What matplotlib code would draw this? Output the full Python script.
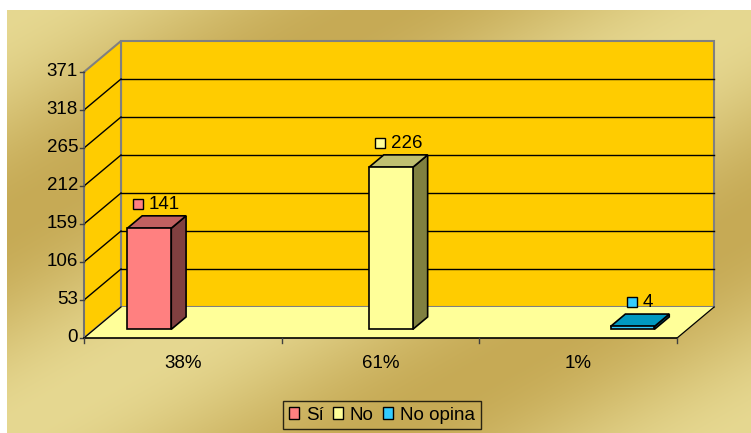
import numpy as np
import matplotlib.pyplot as plt
from matplotlib.patches import Polygon, Patch

# datos del grafico
categorias = ['38%', '61%', '1%']
series = ['Sí', 'No', 'No opina']
valores = [141, 226, 4]
marcas_y = [0, 53, 106, 159, 212, 265, 318, 371]

col_frente = ['#ff8080', '#ffff99', '#33ccff']
col_arriba = ['#c06060', '#c0c070', '#0099c0']
col_lado = ['#804040', '#808040', '#006f90']

plt.rcParams['font.family'] = ['Liberation Sans', 'DejaVu Sans']
fs = 13.5

fig = plt.figure(figsize=(7.51, 4.33), dpi=100)
ax = fig.add_axes([0, 0, 1, 1])

# escala: pixeles por categoria y por unidad de valor
PXU = 197.7
PXV = 266 / 371
X0, Y0 = 84, 338
def px2u(x):
    return (x - X0) / PXU
def py2v(y):
    return (Y0 - y) / PXV

# desplazamiento de profundidad (efecto 3D)
DU = 37 / PXU
DV = 31 / PXV
def p(u, v, z):
    return (u + z * DU, v + z * DV)

# fondo dorado con degradado
H, W = 422, 744
yy, xx = np.mgrid[0:H, 0:W]
t = (xx / W + yy / H) / 2
k = np.sin(2 * np.pi * t) ** 2
claro = np.array([230, 216, 145]) / 255
oscuro = np.array([198, 170, 85]) / 255
img = claro * (1 - k[..., None]) + oscuro * k[..., None]
ax.imshow(img, extent=(px2u(7), px2u(751), py2v(433), py2v(11)), aspect='auto', zorder=0)

ax.set_xlim(px2u(0), px2u(751))
ax.set_ylim(py2v(433), py2v(0))
ax.axis('off')

n = len(categorias)
vmax = marcas_y[-1]

# paredes y piso
ax.add_patch(Polygon([p(0, 0, 1), p(n, 0, 1), p(n, vmax, 1), p(0, vmax, 1)],
                     fc='#ffcc00', ec='#808080', lw=1.5, zorder=1))
ax.add_patch(Polygon([p(0, 0, 0), p(0, 0, 1), p(0, vmax, 1), p(0, vmax, 0)],
                     fc='#ffcc00', ec='#808080', lw=1.5, zorder=1))
ax.add_patch(Polygon([p(0, 0, 0), p(n, 0, 0), p(n, 0, 1), p(0, 0, 1)],
                     fc='#ffff99', ec='none', zorder=1))
ax.plot(*zip(p(0, 0, 0), p(0, 0, 1)), color='black', lw=0.9, zorder=2)
ax.plot(*zip(p(n, 0, 0), p(n, 0, 1)), color='black', lw=0.9, zorder=2)

# lineas de division
for v in marcas_y[1:-1]:
    ax.plot(*zip(p(0, v, 1), p(n, v, 1)), color='black', lw=1, zorder=2)
    ax.plot(*zip(p(0, v, 0), p(0, v, 1)), color='black', lw=1, zorder=2)

# eje y
ax.plot(*zip(p(0, 0, 0), p(0, vmax, 0)), color='#707070', lw=1.2, zorder=3)
for v in marcas_y:
    ax.plot([0, px2u(X0 - 4)], [v, v], color='#404040', lw=1, zorder=3)
    ax.text(px2u(X0 - 6), v, str(v), ha='right', va='center', fontsize=fs, zorder=3)

# eje x
ax.plot([0, n], [0, 0], color='black', lw=1.2, zorder=3)
for i in range(n + 1):
    ax.plot([i, i], [0, -5 / PXV], color='#404040', lw=1, zorder=3)
for i, c in enumerate(categorias):
    ax.text(i + 0.5, py2v(363), c, ha='center', va='center', fontsize=fs, zorder=3)

# barras
ancho = 0.222
z0, z1 = 0.28, 0.68
for i, val in enumerate(valores):
    c = i + 0.5 + (i - 1) * ancho
    u0, u1 = c - ancho / 2, c + ancho / 2
    frente = [p(u0, 0, z0), p(u1, 0, z0), p(u1, val, z0), p(u0, val, z0)]
    arriba = [p(u0, val, z0), p(u1, val, z0), p(u1, val, z1), p(u0, val, z1)]
    lado = [p(u1, 0, z0), p(u1, 0, z1), p(u1, val, z1), p(u1, val, z0)]
    ax.add_patch(Polygon(lado, fc=col_lado[i], ec='black', lw=1.2, zorder=4))
    ax.add_patch(Polygon(arriba, fc=col_arriba[i], ec='black', lw=1.2, zorder=4))
    ax.add_patch(Polygon(frente, fc=col_frente[i], ec='black', lw=1.2, zorder=4))

    # etiqueta con cuadrito de color
    lu, lv = p(c, val, 0.48)
    lv += 18 / PXV
    tw = len(str(val)) * 0.556 * fs * 100 / 72
    total = 10 + 6 + tw
    cx = lu + (-total / 2 + 5) / PXU
    ax.plot(cx, lv, marker='s', ms=7.2, mfc=col_frente[i], mec='black', mew=1, zorder=5)
    ax.text(cx + 11 / PXU, lv, str(val), ha='left', va='center', fontsize=fs, zorder=5)

# leyenda
manejadores = [Patch(fc=c, ec='black', lw=1) for c in col_frente]
leg = fig.legend(manejadores, series, loc='center', bbox_to_anchor=(382 / 751, 1 - 415 / 433),
                 ncol=3, fontsize=fs, handlelength=0.55, handleheight=0.55, handletextpad=0.35,
                 columnspacing=0.5, borderpad=0.3, fancybox=False, edgecolor='black',
                 facecolor='none')
leg.get_frame().set_linewidth(1)

fig.savefig('out.png', dpi=100)
